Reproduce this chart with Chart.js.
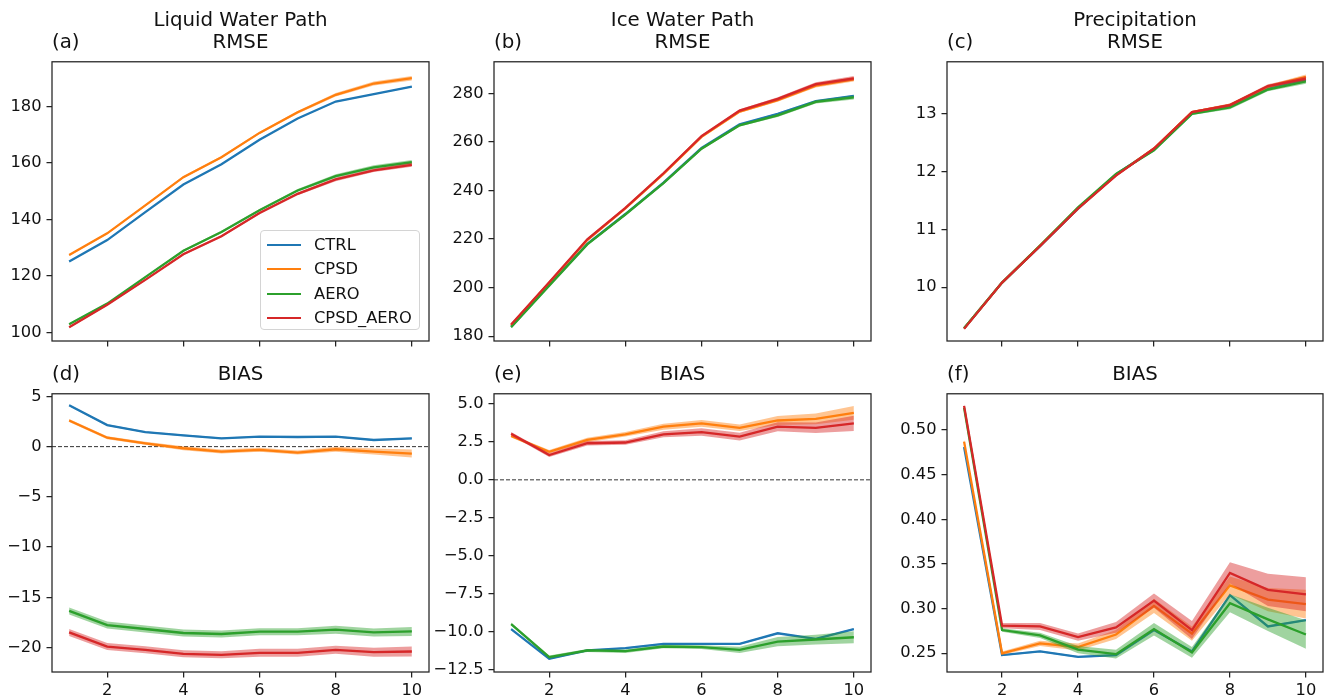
<!DOCTYPE html>
<html>
<head>
<meta charset="utf-8">
<script src="https://cdn.jsdelivr.net/npm/chart.js@4.4.1/dist/chart.umd.min.js"></script>
<style>
  body { margin: 0; background: #fff; width: 1333px; height: 698px; position: relative; overflow: hidden;
         font-family: "DejaVu Sans", sans-serif; color: #111; }
  canvas { position: absolute; }
  .ttl { position: absolute; font-size: 19.8px; line-height: 22px; text-align: center; white-space: nowrap; transform: translateX(-50%); }
  .lbl { position: absolute; font-size: 19.8px; line-height: 22px; white-space: nowrap; }
  #legend { position: absolute; left: 260px; top: 230px; width: 160px; height: 100px; box-sizing: border-box;
            border: 1px solid #d4d4d4; border-radius: 4px; background: rgba(255,255,255,0.8); font-size: 16.3px; }
  #legend .row { position: absolute; left: 0; height: 24px; line-height: 24px; }
  #legend .swatch { position: absolute; left: 6px; top: 11px; width: 34px; height: 0; border-top: 2px solid; }
  #legend .name { position: absolute; left: 53px; top: 0; white-space: nowrap; }
</style>
</head>
<body>
<script>
const xs = [1, 2, 3, 4, 5, 6, 7, 8, 9, 10];
const xTicks = [2, 4, 6, 8, 10];
const seriesNames = ['CTRL', 'CPSD', 'AERO', 'CPSD_AERO'];
const seriesColors = ['#1f77b4', '#ff7f0e', '#2ca02c', '#d62728'];

// (a) liquid water path, RMSE
const aCtrl     = [125.1, 132.7, 142.6, 152.4, 159.6, 168.3, 175.8, 181.8, 184.4, 187.1];
const aCpsd     = [127.4, 135.1, 145.0, 155.0, 162.1, 170.7, 178.0, 184.2, 188.2, 190.1];
const aAero     = [102.9, 110.2, 119.6, 128.9, 135.6, 143.3, 150.3, 155.4, 158.5, 160.3];
const aCpsdAero = [101.8, 109.8, 118.6, 127.7, 134.1, 142.3, 149.1, 154.2, 157.4, 159.4];
const aCtrlSd     = [0.2, 0.2, 0.2, 0.2, 0.2, 0.2, 0.2, 0.2, 0.2, 0.2];
const aCpsdSd     = [0.3, 0.3, 0.3, 0.4, 0.4, 0.4, 0.5, 0.6, 0.7, 0.8];
const aAeroSd     = [0.3, 0.3, 0.3, 0.4, 0.4, 0.4, 0.5, 0.6, 0.7, 0.8];
const aCpsdAeroSd = [0.3, 0.3, 0.3, 0.4, 0.4, 0.4, 0.5, 0.6, 0.6, 0.7];
const aTicks = [100, 120, 140, 160, 180];

// (b) ice water path, RMSE
const bCtrl     = [184.0, 201.2, 218.0, 230.3, 243.2, 257.5, 267.2, 271.6, 276.8, 279.0];
const bCpsd     = [184.5, 202.0, 219.6, 232.6, 246.8, 262.1, 272.5, 277.2, 283.2, 285.8];
const bAero     = [183.7, 200.8, 217.8, 230.1, 243.0, 257.2, 266.8, 270.9, 276.5, 278.3];
const bCpsdAero = [184.8, 202.2, 219.9, 232.8, 247.1, 262.4, 272.9, 277.7, 283.8, 286.2];
const bCtrlSd     = [0.3, 0.3, 0.3, 0.3, 0.3, 0.3, 0.3, 0.3, 0.3, 0.3];
const bCpsdSd     = [0.4, 0.4, 0.4, 0.4, 0.5, 0.5, 0.6, 0.7, 0.8, 0.9];
const bAeroSd     = [0.4, 0.4, 0.4, 0.4, 0.5, 0.5, 0.5, 0.6, 0.7, 0.8];
const bCpsdAeroSd = [0.4, 0.4, 0.4, 0.4, 0.5, 0.5, 0.6, 0.7, 0.8, 0.9];
const bTicks = [180, 200, 220, 240, 260, 280];

// (c) precipitation, RMSE
const cCtrl     = [9.29, 10.08, 10.71, 11.36, 11.95, 12.39, 13.01, 13.13, 13.45, 13.59];
const cCpsd     = [9.29, 10.08, 10.72, 11.37, 11.94, 12.40, 13.03, 13.15, 13.47, 13.64];
const cAero     = [9.29, 10.08, 10.72, 11.38, 11.96, 12.37, 13.00, 13.11, 13.42, 13.56];
const cCpsdAero = [9.28, 10.08, 10.71, 11.36, 11.93, 12.40, 13.03, 13.15, 13.48, 13.61];
const cCtrlSd     = [0.01, 0.01, 0.01, 0.01, 0.01, 0.01, 0.01, 0.01, 0.01, 0.01];
const cCpsdSd     = [0.01, 0.01, 0.01, 0.01, 0.02, 0.02, 0.02, 0.03, 0.03, 0.04];
const cAeroSd     = [0.01, 0.01, 0.01, 0.01, 0.02, 0.02, 0.02, 0.03, 0.03, 0.04];
const cCpsdAeroSd = [0.01, 0.01, 0.01, 0.01, 0.02, 0.02, 0.02, 0.03, 0.03, 0.04];
const cTicks = [10, 11, 12, 13];

// (d) liquid water path, BIAS
const dCtrl     = [4.11, 2.14, 1.45, 1.12, 0.83, 0.99, 0.96, 0.99, 0.66, 0.82];
const dCpsd     = [2.60, 0.89, 0.33, -0.16, -0.49, -0.32, -0.59, -0.26, -0.49, -0.69];
const dAero     = [-16.35, -17.76, -18.15, -18.55, -18.65, -18.42, -18.42, -18.22, -18.49, -18.39];
const dCpsdAero = [-18.49, -19.90, -20.22, -20.62, -20.72, -20.52, -20.52, -20.22, -20.46, -20.39];
const dCtrlSd     = [0.08, 0.08, 0.08, 0.08, 0.08, 0.08, 0.08, 0.08, 0.08, 0.08];
const dCpsdSd     = [0.15, 0.15, 0.15, 0.2, 0.2, 0.2, 0.2, 0.25, 0.3, 0.4];
const dAeroSd     = [0.35, 0.35, 0.35, 0.35, 0.35, 0.35, 0.35, 0.4, 0.4, 0.45];
const dCpsdAeroSd = [0.35, 0.35, 0.35, 0.35, 0.35, 0.4, 0.4, 0.4, 0.45, 0.5];
const dTicks = [-20, -15, -10, -5, 0, 5];

// (e) ice water path, BIAS
const eCtrl     = [-9.83, -11.79, -11.24, -11.09, -10.81, -10.81, -10.81, -10.11, -10.48, -9.83];
const eCpsd     = [2.89, 1.85, 2.63, 3.00, 3.50, 3.72, 3.43, 3.91, 4.02, 4.41];
const eAero     = [-9.50, -11.68, -11.24, -11.29, -10.98, -11.02, -11.20, -10.66, -10.52, -10.37];
const eCpsdAero = [3.04, 1.63, 2.41, 2.46, 3.00, 3.15, 2.85, 3.50, 3.43, 3.72];
const eCtrlSd     = [0.05, 0.05, 0.05, 0.05, 0.05, 0.05, 0.05, 0.05, 0.05, 0.05];
const eCpsdSd     = [0.1, 0.12, 0.15, 0.15, 0.2, 0.22, 0.22, 0.3, 0.35, 0.45];
const eAeroSd     = [0.1, 0.1, 0.1, 0.12, 0.12, 0.12, 0.2, 0.3, 0.32, 0.4];
const eCpsdAeroSd = [0.12, 0.12, 0.15, 0.15, 0.2, 0.25, 0.25, 0.3, 0.35, 0.5];
const eTicks = [-12.5, -10, -7.5, -5, -2.5, 0, 2.5, 5];

// (f) precipitation, BIAS
const fCtrl     = [0.481, 0.248, 0.252, 0.246, 0.248, 0.276, 0.252, 0.315, 0.280, 0.287];
const fCpsd     = [0.487, 0.250, 0.261, 0.257, 0.271, 0.303, 0.272, 0.326, 0.310, 0.305];
const fAero     = [0.525, 0.276, 0.270, 0.254, 0.249, 0.277, 0.251, 0.306, 0.288, 0.271];
const fCpsdAero = [0.527, 0.281, 0.280, 0.268, 0.279, 0.309, 0.276, 0.340, 0.321, 0.316];
const fCtrlSd     = [0.001, 0.001, 0.001, 0.001, 0.001, 0.001, 0.001, 0.001, 0.001, 0.001];
const fCpsdSd     = [0.002, 0.002, 0.003, 0.004, 0.005, 0.008, 0.008, 0.010, 0.013, 0.016];
const fAeroSd     = [0.002, 0.002, 0.003, 0.004, 0.005, 0.007, 0.006, 0.010, 0.013, 0.016];
const fCpsdAeroSd = [0.002, 0.003, 0.004, 0.004, 0.006, 0.008, 0.010, 0.012, 0.018, 0.019];
const fTicks = [0.25, 0.30, 0.35, 0.40, 0.45, 0.50];

const panels = [
  { tag: '(a)', title: ['Liquid Water Path', 'RMSE'], means: [aCtrl, aCpsd, aAero, aCpsdAero],
    sds: [aCtrlSd, aCpsdSd, aAeroSd, aCpsdAeroSd], ticks: aTicks, ymin: 96.95, ymax: 195.9, dec: 0,
    box: [52, 59, 429, 341], showX: false, zero: false },
  { tag: '(b)', title: ['Ice Water Path', 'RMSE'], means: [bCtrl, bCpsd, bAero, bCpsdAero],
    sds: [bCtrlSd, bCpsdSd, bAeroSd, bCpsdAeroSd], ticks: bTicks, ymin: 178, ymax: 293, dec: 0,
    box: [494, 59, 871, 341], showX: false, zero: false },
  { tag: '(c)', title: ['Precipitation', 'RMSE'], means: [cCtrl, cCpsd, cAero, cCpsdAero],
    sds: [cCtrlSd, cCpsdSd, cAeroSd, cCpsdAeroSd], ticks: cTicks, ymin: 9.07, ymax: 13.9, dec: 0,
    box: [947, 59, 1323, 341], showX: false, zero: false },
  { tag: '(d)', title: ['BIAS'], means: [dCtrl, dCpsd, dAero, dCpsdAero],
    sds: [dCtrlSd, dCpsdSd, dAeroSd, dCpsdAeroSd], ticks: dTicks, ymin: -22.43, ymax: 5.26, dec: 0,
    box: [52, 391, 429, 672], showX: true, zero: true },
  { tag: '(e)', title: ['BIAS'], means: [eCtrl, eCpsd, eAero, eCpsdAero],
    sds: [eCtrlSd, eCpsdSd, eAeroSd, eCpsdAeroSd], ticks: eTicks, ymin: -12.66, ymax: 5.67, dec: 1,
    box: [494, 391, 871, 672], showX: true, zero: true },
  { tag: '(f)', title: ['BIAS'], means: [fCtrl, fCpsd, fAero, fCpsdAero],
    sds: [fCtrlSd, fCpsdSd, fAeroSd, fCpsdAeroSd], ticks: fTicks, ymin: 0.229, ymax: 0.5406, dec: 2,
    box: [947, 391, 1323, 672], showX: true, zero: false }
];

function withAlpha(hex, a) {
  const n = parseInt(hex.slice(1), 16);
  return `rgba(${n >> 16},${(n >> 8) & 255},${n & 255},${a})`;
}

function fmt(v, dec) {
  const s = Math.abs(v).toFixed(dec);
  return v < 0 ? '\u2212' + s : s;
}

// axes frame drawn over the lines, like matplotlib spines
const frame = {
  id: 'frame',
  afterDatasetsDraw(chart) {
    const { ctx, chartArea: a } = chart;
    ctx.save();
    ctx.strokeStyle = '#222';
    ctx.lineWidth = 1.25;
    ctx.strokeRect(a.left, a.top, a.right - a.left, a.bottom - a.top);
    ctx.restore();
  }
};

const zeroLine = {
  id: 'zeroLine',
  beforeDatasetsDraw(chart, args, opts) {
    if (!opts.show) return;
    const { ctx, chartArea: a, scales } = chart;
    const y = scales.y.getPixelForValue(0);
    ctx.save();
    ctx.strokeStyle = '#333';
    ctx.lineWidth = 1;
    ctx.setLineDash([4, 2]);
    ctx.beginPath();
    ctx.moveTo(a.left, y);
    ctx.lineTo(a.right, y);
    ctx.stroke();
    ctx.restore();
  }
};

const padL = 62, padT = 12, padR = 12, padB = 36;
const tickFont = { family: 'DejaVu Sans', size: 16.3 };

panels.forEach(p => {
  const [L, T, R, B] = p.box;
  const canvas = document.createElement('canvas');
  canvas.width = R - L + padL + padR;
  canvas.height = B - T + padT + padB;
  canvas.style.left = (L - padL) + 'px';
  canvas.style.top = (T - padT) + 'px';
  document.body.appendChild(canvas);

  const datasets = [];
  p.means.forEach((m, s) => {
    const sd = p.sds[s];
    const col = seriesColors[s];
    const base = (3 - s) * 3;
    datasets.push({
      label: seriesNames[s] + ' upper',
      data: xs.map((x, i) => ({ x, y: m[i] + sd[i] })),
      borderColor: 'rgba(0,0,0,0)', borderWidth: 0, pointRadius: 0, fill: false, order: base + 2
    });
    datasets.push({
      label: seriesNames[s] + ' lower',
      data: xs.map((x, i) => ({ x, y: m[i] - sd[i] })),
      borderColor: 'rgba(0,0,0,0)', borderWidth: 0, pointRadius: 0,
      fill: '-1', backgroundColor: withAlpha(col, 0.45), order: base + 1
    });
    datasets.push({
      label: seriesNames[s],
      data: xs.map((x, i) => ({ x, y: m[i] })),
      borderColor: col, borderWidth: 2.3, pointRadius: 0, fill: false, tension: 0, order: base
    });
  });

  new Chart(canvas, {
    type: 'line',
    data: { datasets },
    plugins: [frame, zeroLine],
    options: {
      responsive: false,
      animation: false,
      events: [],
      layout: { padding: { left: 0, top: padT, right: padR, bottom: 0 } },
      plugins: {
        legend: { display: false },
        tooltip: { enabled: false },
        zeroLine: { show: p.zero }
      },
      scales: {
        x: {
          type: 'linear', min: 0.55, max: 10.45,
          afterBuildTicks: sc => { sc.ticks = xTicks.map(v => ({ value: v })); },
          afterFit: sc => { sc.height = padB; },
          grid: { display: true, drawOnChartArea: false, drawTicks: true, tickLength: 5.5,
                  lineWidth: 1.25, tickWidth: 1.25, tickColor: '#222' },
          border: { display: false },
          ticks: { display: p.showX, font: tickFont, color: '#111', padding: 3,
                   maxRotation: 0, autoSkip: false }
        },
        y: {
          type: 'linear', min: p.ymin, max: p.ymax,
          afterBuildTicks: sc => { sc.ticks = p.ticks.map(v => ({ value: v })); },
          afterFit: sc => { sc.width = padL; },
          grid: { display: true, drawOnChartArea: false, drawTicks: true, tickLength: 5.5,
                  lineWidth: 1.25, tickWidth: 1.25, tickColor: '#222' },
          border: { display: false },
          ticks: { font: tickFont, color: '#111', padding: 5, autoSkip: false,
                   callback: v => fmt(v, p.dec) }
        }
      }
    }
  });

  // titles: centred lines plus the panel letter on the left
  const ttl = document.createElement('div');
  ttl.className = 'ttl';
  ttl.innerHTML = p.title.join('<br>');
  ttl.style.left = ((L + R) / 2) + 'px';
  ttl.style.top = (T - 28 - 22 * (p.title.length - 1)) + 'px';
  document.body.appendChild(ttl);

  const lbl = document.createElement('div');
  lbl.className = 'lbl';
  lbl.textContent = p.tag;
  lbl.style.left = L + 'px';
  lbl.style.top = (T - 28) + 'px';
  document.body.appendChild(lbl);
});

// legend of panel (a)
const legend = document.createElement('div');
legend.id = 'legend';
seriesNames.forEach((name, s) => {
  const row = document.createElement('div');
  row.className = 'row';
  row.style.top = Math.round(2 + s * 24.3) + 'px';
  row.innerHTML = `<span class="swatch" style="border-color:${seriesColors[s]}"></span><span class="name">${name}</span>`;
  legend.appendChild(row);
});
document.body.appendChild(legend);
</script>
</body>
</html>
